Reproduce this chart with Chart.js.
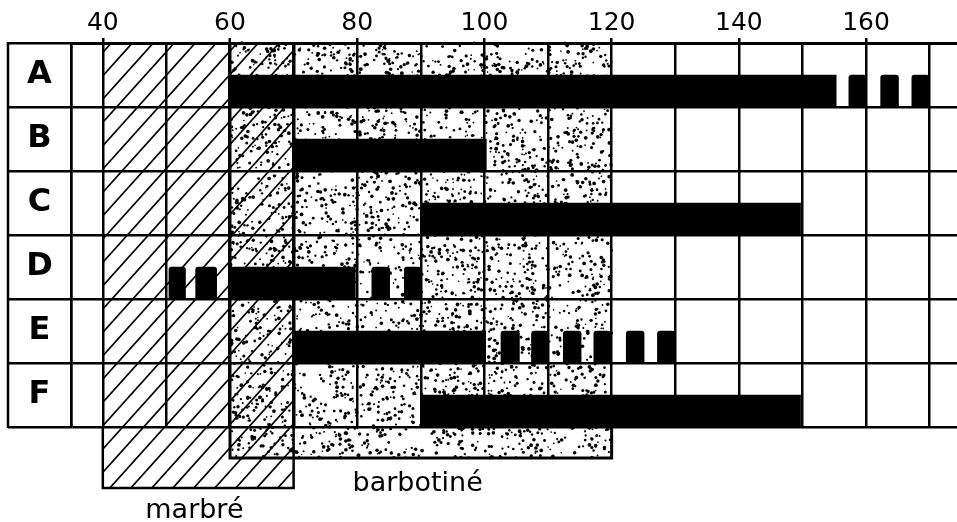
<!DOCTYPE html>
<html>
<head>
<meta charset="utf-8">
<script src="https://cdn.jsdelivr.net/npm/chart.js@4.4.0/dist/chart.umd.min.js"></script>
<style>
  html, body { margin: 0; padding: 0; background: #fff; }
  #wrap { width: 957px; height: 522px; position: relative; }
</style>
</head>
<body>
<div id="wrap"><canvas id="chart"></canvas></div>
<script>
// rows
const categories = ['A', 'B', 'C', 'D', 'E', 'F'];
// continuous black bars [start, end]
const solidBars = [[60, 155.3], [70, 100.3], [90, 149.7], [59.8, 79.7], [70, 100.2], [90, 149.7]];
// interrupted parts of each row
const brokenA = [[157.3, 160], [162.3, 165.1], [167.2, 169.9]];
const brokenB = [];
const brokenC = [];
const brokenD = [[50.4, 53], [54.6, 57.9], [82.3, 85.1], [87.4, 90]];
const brokenE = [[102.6, 105.5], [107.4, 110], [112.4, 115.2], [117.2, 119.8], [122.3, 125.1], [127.2, 130]];
const brokenF = [];
// shaded zones
const marbre = [40, 70];
const barbotine = [60, 120];
const zoneLabels = ['marbré', 'barbotiné'];
// x axis
const xTickLabels = [40, 60, 80, 100, 120, 140, 160];
const xGrid = [35, 40, 50, 60, 70, 80, 90, 100, 110, 120, 130, 140, 150, 160, 170];
const xMin = 35, xMax = 174.3;

const broken = [brokenA, brokenB, brokenC, brokenD, brokenE, brokenF];
const nBroken = Math.max(...broken.map(b => b.length));

// first (empty) stack keeps the upper half of every row free
const datasets = [
  { label: 'top', data: categories.map(() => null), stack: 'top', backgroundColor: 'transparent' },
  { label: 'solid', data: solidBars, stack: 'bar', backgroundColor: '#000' }
];
for (let k = 0; k < nBroken; k++) {
  datasets.push({
    label: 'broken' + k,
    data: broken.map(b => b[k] || null),
    stack: 'bar',
    backgroundColor: '#000',
    borderSkipped: false,
    borderRadius: { topLeft: 3, topRight: 3, bottomLeft: 0, bottomRight: 0 }
  });
}

// texture helpers
let seed = 12345;
const rnd = () => (seed = (seed * 16807) % 2147483647) / 2147483647;

function hatch(ctx, x0, y0, x1, y1) {
  ctx.save();
  ctx.beginPath(); ctx.rect(x0, y0, x1 - x0, y1 - y0); ctx.clip();
  ctx.strokeStyle = '#000'; ctx.lineWidth = 1.7;
  const gap = 21, k = 0.9;
  for (let s = -600; s < 1200; s += gap) {
    // lines "/" anchored on the canvas so the pattern is continuous
    ctx.beginPath(); ctx.moveTo(s, 600); ctx.lineTo(s + 600 * k, 0); ctx.stroke();
  }
  ctx.restore();
}

function dots(ctx, x0, y0, x1, y1) {
  const n = Math.round((x1 - x0) * (y1 - y0) / 42);
  ctx.save();
  ctx.fillStyle = '#000';
  for (let i = 0; i < n; i++) {
    const px = x0 + rnd() * (x1 - x0), py = y0 + rnd() * (y1 - y0);
    const r = 0.8 + rnd() * 1.1;
    ctx.beginPath(); ctx.arc(px, py, r, 0, Math.PI * 2); ctx.fill();
  }
  ctx.restore();
}

const zones = {
  id: 'zones',
  beforeDraw(chart) {
    const { ctx, chartArea: a, scales: { x } } = chart;
    seed = 12345;
    dots(ctx, x.getPixelForValue(barbotine[0]), a.top, x.getPixelForValue(barbotine[1]), a.bottom + 31);
    hatch(ctx, x.getPixelForValue(marbre[0]), a.top, x.getPixelForValue(marbre[1]), a.bottom + 61);
  },
  afterDraw(chart) {
    const { ctx, chartArea: a, scales: { x, y } } = chart;
    ctx.save();
    ctx.strokeStyle = '#000';
    ctx.lineWidth = 2.5;
    // outer left border of the label column
    ctx.beginPath(); ctx.moveTo(a.left - 63, a.top - 1); ctx.lineTo(a.left - 63, a.bottom + 1); ctx.stroke();
    // boxes below the grid
    const m0 = x.getPixelForValue(marbre[0]), m1 = x.getPixelForValue(marbre[1]);
    const b0 = x.getPixelForValue(barbotine[0]), b1 = x.getPixelForValue(barbotine[1]);
    ctx.beginPath();
    ctx.moveTo(m0, a.bottom); ctx.lineTo(m0, a.bottom + 61); ctx.lineTo(m1, a.bottom + 61); ctx.lineTo(m1, a.bottom);
    ctx.stroke();
    ctx.lineWidth = 3;
    ctx.beginPath();
    ctx.moveTo(b0, a.bottom); ctx.lineTo(b0, a.bottom + 31); ctx.lineTo(b1, a.bottom + 31); ctx.lineTo(b1, a.bottom);
    ctx.stroke();
    // row letters
    ctx.fillStyle = '#000';
    ctx.font = 'bold 32px "DejaVu Sans"';
    ctx.textAlign = 'center';
    ctx.textBaseline = 'middle';
    categories.forEach((c, i) => ctx.fillText(c, a.left - 31.5, y.getPixelForValue(i)));
    // zone names
    ctx.font = '27px "DejaVu Sans"';
    ctx.fillText(zoneLabels[0], m0 + (m1 - m0) * 0.48, a.bottom + 84);
    ctx.fillText(zoneLabels[1], x.getPixelForValue(89.5), a.bottom + 57);
    ctx.restore();
  }
};

new Chart(document.getElementById('chart'), {
  type: 'bar',
  data: { labels: categories, datasets: datasets },
  options: {
    indexAxis: 'y',
    responsive: true,
    maintainAspectRatio: false,
    animation: false,
    categoryPercentage: 1,
    barPercentage: 1,
    layout: { padding: { left: 8, right: 0, top: 0, bottom: 95 } },
    plugins: { legend: { display: false }, tooltip: { enabled: false } },
    scales: {
      x: {
        type: 'linear',
        position: 'top',
        stacked: false,
        min: xMin,
        max: xMax,
        afterBuildTicks: s => { s.ticks = xGrid.map(v => ({ value: v })); },
        afterFit: s => { s.height = 43; },
        ticks: {
          autoSkip: false,
          maxRotation: 0,
          padding: 0,
          color: '#000',
          font: { family: '"DejaVu Sans"', size: 25 },
          callback: v => xTickLabels.includes(v) ? String(v) : ''
        },
        grid: {
          color: '#000',
          lineWidth: c => (c.tick && (c.tick.value === 60 || c.tick.value === 70)) ? 3.5 : 2.5,
          tickLength: 5,
          tickWidth: 2.5,
          tickColor: c => (c.tick && xTickLabels.includes(c.tick.value)) ? '#000' : 'rgba(0,0,0,0)'
        },
        border: { color: '#000', width: 3 }
      },
      y: {
        type: 'category',
        offset: true,
        afterFit: s => { s.width = 63; },
        ticks: { display: false },
        grid: { offset: true, color: '#000', lineWidth: 2.5, tickLength: 63 },
        border: { color: '#000', width: 2.5 }
      }
    }
  },
  plugins: [zones]
});
</script>
</body>
</html>
